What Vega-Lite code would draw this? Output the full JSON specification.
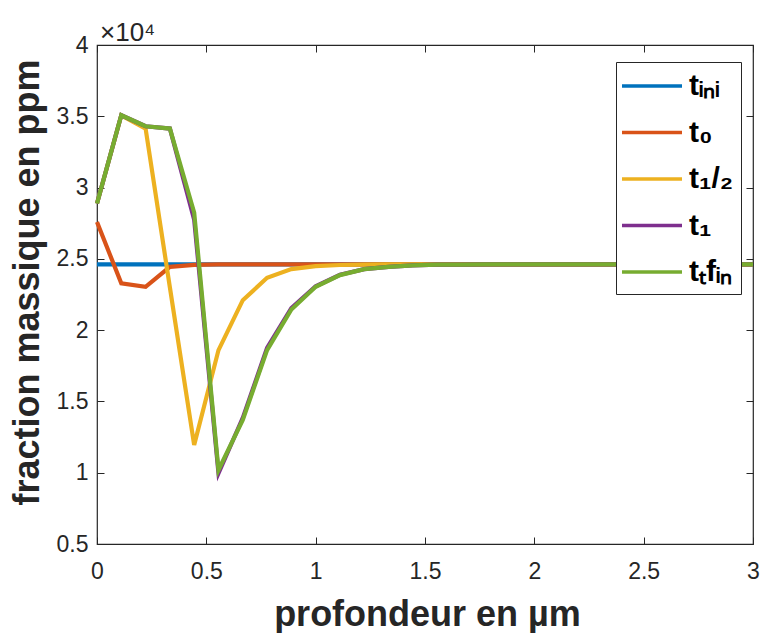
{
  "$schema": "https://vega.github.io/schema/vega-lite/v6.json",
  "width": 656,
  "height": 499,
  "autosize": {"type": "none"},
  "padding": {"left": 97, "top": 45, "right": 8, "bottom": 89},
  "background": "white",
  "title": {"text": "×10⁴", "anchor": "start", "frame": "group", "align": "left", "baseline": "alphabetic", "offset": 5, "dx": 3, "dy": 38, "fontSize": 26, "font": "Liberation Sans", "fontWeight": "normal", "color": "#262626"},
  "data": {"values": [
    {"profondeur": 0, "t_ini": 24610, "t_0": 27590, "t_demi": 28880, "t_1": 28880, "t_tfin": 28880},
    {"profondeur": 0.1111, "t_ini": 24610, "t_0": 23280, "t_demi": 35070, "t_1": 35070, "t_tfin": 35070},
    {"profondeur": 0.2222, "t_ini": 24610, "t_0": 23040, "t_demi": 34140, "t_1": 34300, "t_tfin": 34300},
    {"profondeur": 0.3333, "t_ini": 24610, "t_0": 24440, "t_demi": 23000, "t_1": 34140, "t_tfin": 34140},
    {"profondeur": 0.4444, "t_ini": 24610, "t_0": 24580, "t_demi": 11940, "t_1": 27750, "t_tfin": 28250},
    {"profondeur": 0.5556, "t_ini": 24610, "t_0": 24610, "t_demi": 18600, "t_1": 9960, "t_tfin": 10190},
    {"profondeur": 0.6667, "t_ini": 24610, "t_0": 24610, "t_demi": 22100, "t_1": 13850, "t_tfin": 13700},
    {"profondeur": 0.7778, "t_ini": 24610, "t_0": 24610, "t_demi": 23670, "t_1": 18750, "t_tfin": 18600},
    {"profondeur": 0.8889, "t_ini": 24610, "t_0": 24610, "t_demi": 24280, "t_1": 21550, "t_tfin": 21450},
    {"profondeur": 1, "t_ini": 24610, "t_0": 24610, "t_demi": 24490, "t_1": 23080, "t_tfin": 23040},
    {"profondeur": 1.1111, "t_ini": 24610, "t_0": 24610, "t_demi": 24570, "t_1": 23880, "t_tfin": 23860},
    {"profondeur": 1.2222, "t_ini": 24610, "t_0": 24610, "t_demi": 24600, "t_1": 24280, "t_tfin": 24280},
    {"profondeur": 1.3333, "t_ini": 24610, "t_0": 24610, "t_demi": 24610, "t_1": 24440, "t_tfin": 24440},
    {"profondeur": 1.4444, "t_ini": 24610, "t_0": 24610, "t_demi": 24610, "t_1": 24540, "t_tfin": 24540},
    {"profondeur": 1.5556, "t_ini": 24610, "t_0": 24610, "t_demi": 24610, "t_1": 24590, "t_tfin": 24590},
    {"profondeur": 1.6667, "t_ini": 24610, "t_0": 24610, "t_demi": 24610, "t_1": 24600, "t_tfin": 24600},
    {"profondeur": 1.7778, "t_ini": 24610, "t_0": 24610, "t_demi": 24610, "t_1": 24610, "t_tfin": 24610},
    {"profondeur": 1.8889, "t_ini": 24610, "t_0": 24610, "t_demi": 24610, "t_1": 24610, "t_tfin": 24610},
    {"profondeur": 2, "t_ini": 24610, "t_0": 24610, "t_demi": 24610, "t_1": 24610, "t_tfin": 24610},
    {"profondeur": 2.1111, "t_ini": 24610, "t_0": 24610, "t_demi": 24610, "t_1": 24610, "t_tfin": 24610},
    {"profondeur": 2.2222, "t_ini": 24610, "t_0": 24610, "t_demi": 24610, "t_1": 24610, "t_tfin": 24610},
    {"profondeur": 2.3333, "t_ini": 24610, "t_0": 24610, "t_demi": 24610, "t_1": 24610, "t_tfin": 24610},
    {"profondeur": 2.4444, "t_ini": 24610, "t_0": 24610, "t_demi": 24610, "t_1": 24610, "t_tfin": 24610},
    {"profondeur": 2.5556, "t_ini": 24610, "t_0": 24610, "t_demi": 24610, "t_1": 24610, "t_tfin": 24610},
    {"profondeur": 2.6667, "t_ini": 24610, "t_0": 24610, "t_demi": 24610, "t_1": 24610, "t_tfin": 24610},
    {"profondeur": 2.7778, "t_ini": 24610, "t_0": 24610, "t_demi": 24610, "t_1": 24610, "t_tfin": 24610},
    {"profondeur": 2.8889, "t_ini": 24610, "t_0": 24610, "t_demi": 24610, "t_1": 24610, "t_tfin": 24610},
    {"profondeur": 3, "t_ini": 24610, "t_0": 24610, "t_demi": 24610, "t_1": 24610, "t_tfin": 24610}
  ]},
  "transform": [{"fold": ["t_ini", "t_0", "t_demi", "t_1", "t_tfin"], "as": ["serie", "fraction"]}],
  "layer": [
    {
      "encoding": {
        "x": {"field": "profondeur", "type": "quantitative", "scale": {"domain": [0, 3], "nice": false},
          "axis": {"orient": "bottom", "values": [0, 0.5, 1, 1.5, 2, 2.5, 3], "labelExpr": "format(datum.value, '~g')", "labelFlush": false, "tickSize": -7, "labelPadding": 23,
            "title": "profondeur en µm", "titleFont": "Liberation Sans", "titleFontSize": 36, "titleFontWeight": "bold", "titleColor": "#262626", "titleBaseline": "alphabetic", "titleY": 81, "titleX": 330, "titleAlign": "center"}},
        "y": {"field": "fraction", "type": "quantitative", "scale": {"domain": [5000, 40000], "nice": false, "zero": false},
          "axis": {"orient": "left", "values": [5000, 10000, 15000, 20000, 25000, 30000, 35000, 40000], "labelExpr": "format(datum.value / 10000, '~g')", "labelFlush": false, "tickSize": -7, "labelPadding": 16,
            "title": "fraction massique en ppm", "titleFont": "Liberation Sans", "titleFontSize": 36, "titleFontWeight": "bold", "titleColor": "#262626", "titleAngle": 270, "titleBaseline": "alphabetic", "titleX": -59, "titleY": 237, "titleAlign": "center"}},
        "color": {"field": "serie", "type": "nominal",
          "scale": {"domain": ["t_ini", "t_0", "t_demi", "t_1", "t_tfin"], "range": ["#0072BD", "#D95319", "#EDB120", "#7E2F8E", "#77AC30"]},
          "legend": {"orient": "none", "legendX": 519, "legendY": 17, "title": null, "padding": 7, "symbolType": "M-2,0H2", "symbolSize": 900, "symbolStrokeWidth": 3.5, "symbolOffset": 12, "labelOffset": 20,
            "labelFont": "Liberation Sans", "labelFontSize": 30, "labelFontWeight": "bold", "labelColor": "#000000", "rowPadding": 14.5, "strokeColor": "#262626", "fillColor": "white",
            "labelExpr": "datum.label === 't_ini' ? 'tᵢₙᵢ' : datum.label === 't_0' ? 't₀' : datum.label === 't_demi' ? 't₁/₂' : datum.label === 't_1' ? 't₁' : 'tₜfᵢₙ'"}}
      },
      "layer": [
        {"transform": [{"filter": "datum.serie === 't_ini'"}], "mark": {"type": "line", "strokeWidth": 4.2}},
        {"transform": [{"filter": "datum.serie === 't_0'"}], "mark": {"type": "line", "strokeWidth": 4.2}},
        {"transform": [{"filter": "datum.serie === 't_demi'"}], "mark": {"type": "line", "strokeWidth": 4.2}},
        {"transform": [{"filter": "datum.serie === 't_1'"}], "mark": {"type": "line", "strokeWidth": 4.2}},
        {"transform": [{"filter": "datum.serie === 't_tfin'"}], "mark": {"type": "line", "strokeWidth": 4.2}}
      ]
    },
    {
      "mark": {"type": "line", "strokeOpacity": 0},
      "encoding": {
        "x": {"field": "profondeur", "type": "quantitative", "axis": {"orient": "top", "values": [0, 0.5, 1, 1.5, 2, 2.5, 3], "labels": false, "title": null, "tickSize": -7}},
        "y": {"field": "fraction", "type": "quantitative", "axis": {"orient": "right", "values": [5000, 10000, 15000, 20000, 25000, 30000, 35000, 40000], "labels": false, "title": null, "tickSize": -7}},
        "detail": {"field": "serie"}
      }
    }
  ],
  "resolve": {"axis": {"x": "independent", "y": "independent"}},
  "config": {
    "view": {"stroke": "#262626", "strokeWidth": 1.2},
    "axis": {"domain": false, "grid": false, "labelFont": "Liberation Sans", "labelFontSize": 23, "labelColor": "#262626", "tickColor": "#262626", "tickWidth": 1}
  }
}
